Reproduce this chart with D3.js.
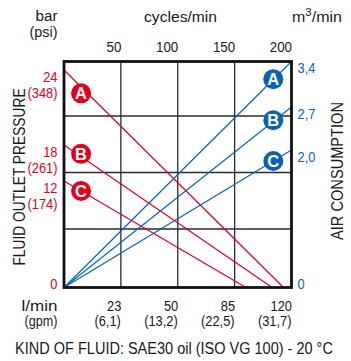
<!DOCTYPE html>
<html>
<head>
<meta charset="utf-8">
<script src="https://cdn.jsdelivr.net/npm/d3@7"></script>
<style>
  html, body { margin: 0; padding: 0; background: #fff; }
  svg { display: block; }
  text { font-family: "Liberation Sans", Arial, sans-serif; }
</style>
</head>
<body>
<svg id="chart" width="351" height="361"></svg>
<script>
// Pump performance: fluid outlet pressure (red) and air consumption (blue) vs speed
const seriesNames = ["A", "B", "C"];
const pressureStart = [24, 18, 12];          // bar at 0 cycles/min
const pressureZeroCycles = [193, 183, 160];  // cycles/min where outlet pressure reaches 0
const airAtMax = [3.4, 2.7, 2.0];            // m3/min at 200 cycles/min

const cycleTicks = [50, 100, 150, 200];
const flowTicks = [23, 50, 85, 120];
const flowGpmLabels = ["(6,1)", "(13,2)", "(22,5)", "(31,7)"];
const pressureTicks = [24, 18, 12, 0];
const psiLabels = ["(348)", "(261)", "(174)", ""];
const airTicks = [3.4, 2.7, 2.0, 0];
const airLabels = ["3,4", "2,7", "2,0", "0"];

const RED = "#e3001b";
const BLUE = "#0b62b5";
const INK = "#1a1a1a";

const svg = d3.select("#chart");

// narrow the sans face horizontally around each text's anchor point
function condense(node, k) {
  const t = d3.select(node);
  const tr = t.attr("transform");
  if (tr) {
    t.attr("transform", `${tr} scale(${k},1)`);
  } else {
    const x0 = +t.attr("x") || 0, y0 = +t.attr("y") || 0;
    t.attr("x", 0).attr("y", 0).attr("transform", `translate(${x0},${y0}) scale(${k},1)`);
  }
}
function squeeze(sel, k) {
  sel.each(function () { condense(this, k); });
}
function fitWidth(sel, w) {
  sel.each(function () { condense(this, w / this.getComputedTextLength()); });
}

const plotL = 64, plotR = 291.5, plotT = 61.5, plotB = 287.5;

const x = d3.scaleLinear().domain([0, 200]).range([plotL, plotR]);
const flowX = d3.scaleLinear().domain([0, 23, 50, 85, 120]).range([0, 50, 100, 150, 200].map(x));
const yP = d3.scaleLinear().domain([0, 12, 18, 24]).range([plotB, 181, 145, 70]);
const yA = d3.scaleLinear().domain([0, 2.0, 2.7, 3.4]).range([plotB, 150, 107, plotT]);

// grid
const grid = svg.append("g").attr("stroke", "#2a2a2a").attr("stroke-width", 1.3);
grid.selectAll("line.v").data(cycleTicks.slice(0, 3)).join("line")
  .attr("x1", d => x(d)).attr("x2", d => x(d)).attr("y1", plotT).attr("y2", plotB);
const bandH = (plotB - plotT) / 4;
grid.selectAll("line.h").data([1, 2, 3]).join("line")
  .attr("x1", plotL).attr("x2", plotR)
  .attr("y1", d => plotT + d * bandH - 2).attr("y2", d => plotT + d * bandH - 2);

// pressure lines
const pLines = svg.append("g");
seriesNames.forEach((s, i) => {
  const pts = [[0, pressureStart[i]], [pressureZeroCycles[i], 0]];
  pLines.append("path")
    .attr("d", d3.line().x(d => x(d[0])).y(d => yP(d[1]))(pts))
    .attr("stroke", RED).attr("stroke-width", 1.2).attr("fill", "none");
});

// air lines
const aLines = svg.append("g");
seriesNames.forEach((s, i) => {
  const pts = [[0, 0], [200, airAtMax[i]]];
  aLines.append("path")
    .attr("d", d3.line().x(d => x(d[0])).y(d => yA(d[1]))(pts))
    .attr("stroke", BLUE).attr("stroke-width", 1.2).attr("fill", "none");
});

// frame
svg.append("rect").attr("x", plotL).attr("y", plotT)
  .attr("width", plotR - plotL).attr("height", plotB - plotT)
  .attr("fill", "none").attr("stroke", "#111").attr("stroke-width", 2.8);

// series markers
function marker(cx, cy, color, letter) {
  const g = svg.append("g").attr("transform", `translate(${cx},${cy})`);
  g.append("circle").attr("r", 10).attr("fill", color);
  g.append("text").attr("text-anchor", "middle").attr("y", 5.8)
    .attr("fill", "#fff").attr("font-size", 16.5).attr("font-weight", "bold").text(letter);
}
const redMarkCycle = 15, blueMarkCycle = 184;
seriesNames.forEach((s, i) => {
  const p = pressureStart[i] * (1 - redMarkCycle / pressureZeroCycles[i]);
  marker(x(redMarkCycle), yP(p), RED, s);
  marker(x(blueMarkCycle), yA(airAtMax[i] * blueMarkCycle / 200), BLUE, s);
});

// top axis: cycles/min
const topAxis = svg.append("g").attr("transform", `translate(0,${plotT})`)
  .call(d3.axisTop(x).tickValues(cycleTicks).tickSize(0).tickPadding(10));
topAxis.attr("font-family", null).attr("font-size", null);
topAxis.select(".domain").remove();
const topTxt = topAxis.selectAll("text").attr("text-anchor", "end").attr("font-size", 14.5).attr("fill", INK);
squeeze(topTxt, 0.92);

// bottom axis: l/min and gpm
const botAxis = svg.append("g").attr("transform", `translate(0,${plotB})`)
  .call(d3.axisBottom(flowX).tickValues(flowTicks).tickSize(0).tickPadding(13.5));
botAxis.attr("font-family", null).attr("font-size", null);
botAxis.select(".domain").remove();
const botTxt = botAxis.selectAll("text").attr("text-anchor", "end").attr("font-size", 14).attr("fill", INK);
squeeze(botTxt, 0.92);
const gpmTxt = svg.append("g").selectAll("text").data(flowTicks).join("text")
  .attr("x", d => flowX(d)).attr("y", 326).attr("text-anchor", "end")
  .attr("font-size", 14).attr("fill", INK)
  .text((d, i) => flowGpmLabels[i]);
squeeze(gpmTxt, 0.92);

// left pressure labels
const pl = svg.append("g").attr("fill", RED).attr("font-size", 14).attr("text-anchor", "end");
pressureTicks.forEach((v, i) => {
  if (v === 0) {
    pl.append("text").attr("x", 57.5).attr("y", yP(v) + 1).text(v);
  } else {
    pl.append("text").attr("x", 57.5).attr("y", yP(v) + 12).text(v);
    pl.append("text").attr("x", 57.5).attr("y", yP(v) + 28).text(psiLabels[i]);
  }
});
squeeze(pl.selectAll("text"), 0.92);

// right air labels
const al = svg.append("g").attr("fill", BLUE).attr("font-size", 14).attr("text-anchor", "start");
airTicks.forEach((v, i) => {
  al.append("text").attr("x", 297.5).attr("y", v === 0 ? yA(v) + 1 : yA(v) + 11.5).text(airLabels[i]);
});
squeeze(al.selectAll("text"), 0.92);

// unit headers
const hdr = svg.append("g").attr("font-size", 15.5).attr("fill", INK);
fitWidth(hdr.append("text").attr("x", 57.5).attr("y", 21).attr("text-anchor", "end").attr("font-size", 14.5).text("bar"), 22);
fitWidth(hdr.append("text").attr("x", 57.5).attr("y", 37).attr("text-anchor", "end").attr("font-size", 14.5).text("(psi)"), 28);
fitWidth(hdr.append("text").attr("x", 180.5).attr("y", 22).attr("text-anchor", "middle").text("cycles/min"), 73);
const m3 = hdr.append("text").attr("x", 292).attr("y", 22);
m3.append("tspan").text("m");
m3.append("tspan").attr("font-size", 11).attr("dy", -6).text("3");
m3.append("tspan").attr("dy", 6).text("/min");
fitWidth(m3, 50);
fitWidth(hdr.append("text").attr("x", 57.5).attr("y", 310.5).attr("text-anchor", "end").attr("font-size", 14.5).text("l/min"), 36);
fitWidth(hdr.append("text").attr("x", 57.5).attr("y", 326).attr("text-anchor", "end").attr("font-size", 14.5).text("(gpm)"), 33);

// axis titles
fitWidth(svg.append("text").attr("transform", "translate(25,177) rotate(-90)")
  .attr("text-anchor", "middle").attr("font-size", 16.3).attr("fill", INK)
  .text("FLUID OUTLET PRESSURE"), 177);
fitWidth(svg.append("text").attr("transform", "translate(343,171) rotate(-90)")
  .attr("text-anchor", "middle").attr("font-size", 16.3).attr("fill", INK)
  .text("AIR CONSUMPTION"), 138);

// footer
fitWidth(svg.append("text").attr("x", 174).attr("y", 354).attr("text-anchor", "middle")
  .attr("font-size", 16).attr("fill", INK)
  .text("KIND OF FLUID: SAE30 oil (ISO VG 100) - 20 °C"), 318);
</script>
</body>
</html>
